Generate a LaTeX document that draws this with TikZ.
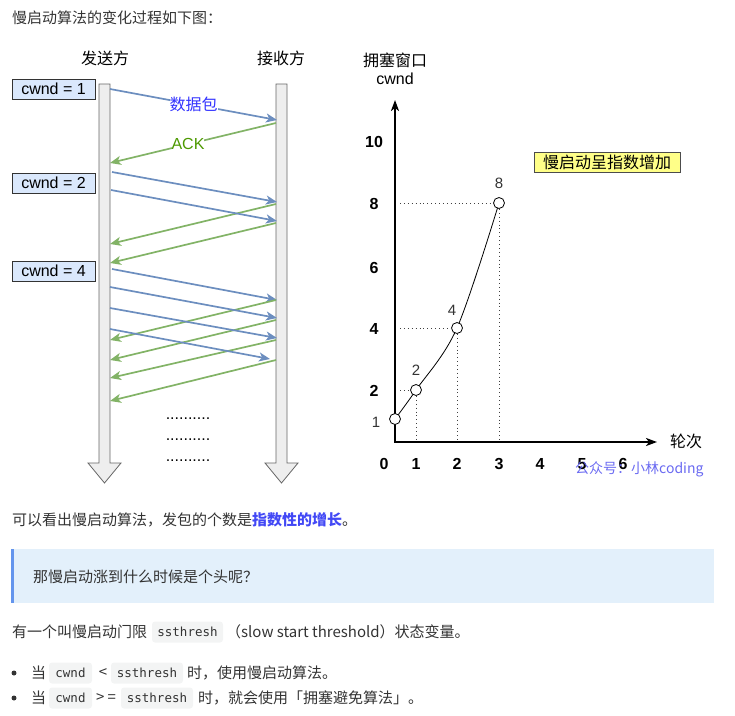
\documentclass[tikz,border=0pt]{standalone}
\usepackage{fontspec}
\setmainfont{Liberation Sans}
\newfontfamily\cjk{Noto Sans CJK SC}
\newfontfamily\codefont{DejaVu Sans Mono}
\usetikzlibrary{arrows.meta,positioning}
\definecolor{cPacket}{RGB}{108,142,191}
\definecolor{cAck}{RGB}{130,179,102}
\definecolor{cPacketText}{RGB}{51,51,255}
\definecolor{cAckText}{RGB}{77,153,0}
\definecolor{cCwnd}{RGB}{218,232,252}
\definecolor{cNote}{RGB}{255,255,136}
\definecolor{cBar}{RGB}{238,238,238}
\definecolor{cText}{RGB}{51,51,51}
\definecolor{cLink}{RGB}{66,72,245}
\definecolor{cQuote}{RGB}{227,240,251}
\definecolor{cQuoteBar}{RGB}{100,149,237}
\definecolor{cCode}{RGB}{243,244,244}
\definecolor{cMark}{RGB}{90,90,240}

\begin{document}
\begin{tikzpicture}[x=1pt, y=-1pt, inner sep=0pt,
  body/.style={anchor=west, text=cText, font={\cjk\fontsize{15}{18}\selectfont}},
  head/.style={font={\cjk\fontsize{16}{19}\selectfont}},
  cwndbox/.style={draw=black!80, fill=cCwnd, line width=0.8pt, minimum width=83, minimum height=20, font={\fontsize{16}{19}\selectfont}},
  pkt/.style={draw=cPacket, line width=1.7pt, -{Stealth[length=11pt,width=9pt,inset=3pt]}},
  ack/.style={draw=cAck, line width=1.7pt, -{Stealth[length=11pt,width=9pt,inset=3pt]}},
  code/.style={fill=cCode, rounded corners=3pt, minimum height=21, text=cText, font={\codefont\fontsize{12.5}{15}\selectfont}},
  tick/.style={font={\bfseries\fontsize{16}{19}\selectfont}},
  ptlabel/.style={text=cText, font={\fontsize{15}{18}\selectfont}},
  pt/.style={circle, draw, fill=white, line width=0.8pt, minimum size=11},
  guide/.style={draw=black!75, line width=0.9pt, dash pattern=on 0.9pt off 3pt}]
\useasboundingbox (0,0) rectangle (735,715);

\node[body] (title) at (12,18) {慢启动算法的变化过程如下图：};

\node[head] (sender) at (105,58) {发送方};
\node[head] (receiver) at (281,58) {接收方};
\foreach \x in {104.5, 281.5} {
  \draw[fill=cBar, draw=black!60, line width=0.8pt]
    ({\x-5.5},84) -- ({\x+5.5},84) -- ({\x+5.5},463) -- ({\x+16.5},463) -- (\x,483)
    -- ({\x-16.5},463) -- ({\x-5.5},463) -- cycle;
}
\foreach \y/\n in {89/1, 183/2, 271/4} {
  \node[cwndbox] (cwnd\n) at (53.5,\y) {cwnd = \n};
}

\foreach \i/\xa/\ya/\xb/\yb in {1/110/89/277/120, 2/112/172/277/202, 3/111/190/277/221,
                                4/112/269/277/300, 5/110/287/277/318, 6/110/308/277/338,
                                7/110/329/270/359} {
  \coordinate (s\i) at (\xa,\ya);
  \coordinate (r\i) at (\xb,\yb);
}
\foreach \i/\ya/\yb in {1/123/163, 2/204/244, 3/223/263, 4/300/340,
                        5/320/360, 6/340/378, 7/360/401} {
  \coordinate (ra\i) at (276,\ya);
  \coordinate (sa\i) at (110,\yb);
}
\draw[pkt] (s1) -- node[fill=white, text=cPacketText, head] (data) {数据包} (r1);
\draw[ack] (ra1) -- node[pos=0.53, fill=white, text=cAckText, font={\fontsize{16}{19}\selectfont}] (acklabel) {ACK} (sa1);
\foreach \i in {2,...,7} {
  \draw[pkt] (s\i) -- (r\i);
  \draw[ack] (ra\i) -- (sa\i);
}
\foreach \y/\n in {415/1, 436/2, 457/3} {
  \node[font={\fontsize{16}{19}\selectfont}] (more\n) at (188,{\y+4}) {..........};
}

\node[head] (cwndcn) at (395,60) {拥塞窗口};
\node[font={\fontsize{16}{19}\selectfont}] (cwndlabel) at (395,79) {cwnd};
\coordinate (O) at (395,442);
\coordinate (ytip) at (395,100);
\coordinate (xtip) at (657,442);
\draw[line width=2pt, {Stealth[length=11pt,width=8pt,inset=3pt]}-{Stealth[length=11pt,width=8pt,inset=3pt]}]
  (ytip) -- (O) -- (xtip);
\node[head, anchor=west] (rounds) at (670,441) {轮次};
\foreach \y/\v in {142/10, 204/8, 268/6, 329/4, 391/2} {
  \node[tick] (ytick\v) at (374,\y) {\v};
}
\foreach \x/\v in {384/0, 416/1, 457/2, 499/3, 540/4, 582/5, 623/6} {
  \node[tick] (xtick\v) at (\x,464) {\v};
}

\foreach \i/\x/\y in {0/395/419, 1/416/390, 2/457/328, 3/499/203} {
  \coordinate (c\i) at (\x,\y);
}
\draw[line width=0.8pt] plot[smooth, tension=0.55] coordinates {(c0) (c1) (c2) (c3)};
\foreach \i in {0,...,3} {
  \node[pt] (p\i) at (c\i) {};
}
\foreach \i in {1,2,3} {
  \draw[guide] ([xshift=5pt]O |- p\i) -- (p\i.west);
  \draw[guide] (p\i.south) -- (p\i |- O);
}
\node[ptlabel] (lbl1) at (376,422) {1};
\node[ptlabel] (lbl2) at (416,370) {2};
\node[ptlabel] (lbl4) at (452,310) {4};
\node[ptlabel] (lbl8) at (499,183) {8};

\node[draw=black!70, fill=cNote, line width=0.8pt, minimum width=146, minimum height=20, head] (growth) at (607,162) {慢启动呈指数增加};
\node[anchor=west, text=cMark, opacity=0.9, font={\cjk\fontsize{14}{17}\selectfont}] (mark) at (575,469) {公众号：小林coding};

\node[body] (summary) at (12,520) {可以看出慢启动算法，发包的个数是{\bfseries\color{cLink}指数性的增长}。};

\fill[cQuote] (11,549) rectangle (714,603);
\fill[cQuoteBar] (11,549) rectangle (14,603);
\node[body] (question) at (33,577) {那慢启动涨到什么时候是个头呢？};

\node[body] (ssline) at (12,632) {有一个叫慢启动门限};
\node[code, minimum width=71] (ss0) at (187.5,632) {ssthresh};
\node[body] (ssline2) at (226,632) {（slow start threshold）状态变量。};

\foreach \y/\n in {673/1, 698/2} {
  \node[circle, fill=cText, minimum size=5] (dot\n) at (14,\y) {};
  \node[body] (when\n) at (31,\y) {当};
  \node[code, minimum width=43] (cw\n) at (70.5,\y) {cwnd};
}
\node[body, anchor=center] (lt) at (103,673) {<};
\node[code, minimum width=72] (ss1) at (147,673) {ssthresh};
\node[body] (rule1) at (187,673) {时，使用慢启动算法。};
\node[body, anchor=center] (ge) at (106,698) {>\kern3pt=};
\node[code, minimum width=72] (ss2) at (157,698) {ssthresh};
\node[body] (rule2) at (198,698) {时，就会使用「拥塞避免算法」。};
\end{tikzpicture}
\end{document}
